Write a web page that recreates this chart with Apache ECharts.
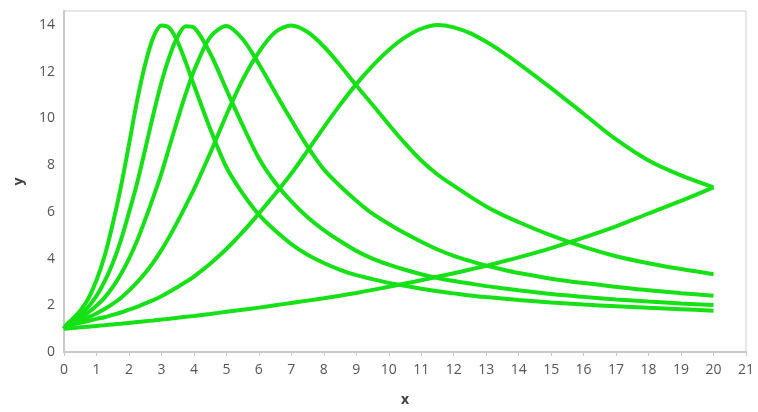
<!DOCTYPE html>
<html>
<head>
<meta charset="utf-8">
<script src="https://cdn.jsdelivr.net/npm/echarts@6/dist/echarts.min.js"></script>
<style>html,body{margin:0;padding:0;background:#fff}#c{width:758px;height:412px}</style>
</head>
<body>
<div id="c"></div>
<script>
// shared x positions
var xs = [0,0.1,0.25,0.5,0.75,1,1.25,1.5,1.75,2,2.25,2.5,2.75,3,3.25,3.5,3.75,4,4.5,5,5.5,6,6.5,7,7.5,8,8.5,9,9.5,10,10.5,11,11.5,12,12.5,13,13.5,14,15,16,17,18,19,20];
// curves (peaks near x = 3.1, 3.8, 4.9, 6.9, 11.5, plus the rising curve)
var curveA = [1,1.21,1.40,1.77,2.29,3.07,4.11,5.48,7.06,8.88,10.75,12.32,13.47,13.98,13.87,13.28,12.4,11.43,9.56,7.91,6.79,5.88,5.2,4.62,4.16,3.81,3.52,3.29,3.12,2.96,2.83,2.71,2.60,2.51,2.42,2.35,2.29,2.23,2.12,2.03,1.96,1.89,1.83,1.77];
var curveB = [1,1.185,1.33,1.59,1.94,2.40,3.02,3.80,4.78,5.97,7.23,8.68,10.17,11.54,12.67,13.51,13.95,13.89,12.79,11.24,9.71,8.30,7.26,6.45,5.77,5.22,4.75,4.33,4.0,3.74,3.52,3.33,3.17,3.04,2.93,2.82,2.73,2.64,2.48,2.36,2.25,2.16,2.08,2.01];
var curveC = [1,1.16,1.27,1.47,1.70,1.98,2.33,2.78,3.33,3.99,4.76,5.67,6.63,7.65,8.81,9.96,11.06,12.03,13.48,13.96,13.4,12.33,11.12,9.93,8.79,7.82,7.11,6.48,5.92,5.48,5.08,4.72,4.39,4.12,3.9,3.70,3.53,3.38,3.14,2.95,2.79,2.64,2.52,2.41];
var curveD = [1,1.13,1.22,1.36,1.49,1.65,1.84,2.06,2.31,2.63,2.98,3.38,3.84,4.36,4.95,5.59,6.27,6.96,8.51,10.15,11.65,12.84,13.69,13.98,13.7,13.08,12.28,11.41,10.59,9.74,8.93,8.2,7.6,7.12,6.66,6.23,5.87,5.56,4.99,4.5,4.1,3.8,3.55,3.33];
var curveE = [1,1.10,1.17,1.25,1.33,1.42,1.49,1.59,1.69,1.81,1.93,2.08,2.22,2.39,2.58,2.78,3.0,3.23,3.78,4.41,5.13,5.93,6.76,7.64,8.62,9.62,10.58,11.47,12.25,12.93,13.47,13.84,14.0,13.9,13.65,13.28,12.84,12.35,11.3,10.2,9.1,8.2,7.56,7.05];
var curveF = [1,1.01,1.03,1.055,1.085,1.115,1.145,1.18,1.21,1.245,1.28,1.315,1.35,1.39,1.425,1.465,1.505,1.545,1.63,1.72,1.81,1.9,2.0,2.1,2.2,2.3,2.41,2.53,2.66,2.79,2.93,3.07,3.22,3.37,3.53,3.69,3.87,4.05,4.45,4.9,5.38,5.93,6.47,7.05];
var curves = [curveA, curveB, curveC, curveD, curveE, curveF];
var xTicks = [0,1,2,3,4,5,6,7,8,9,10,11,12,13,14,15,16,17,18,19,20,21];
var yTicks = [0,2,4,6,8,10,12,14];

var lineColor = '#16e016';
var chart = echarts.init(document.getElementById('c'), null, {renderer:'canvas'});
var font = '"Open Sans", "Noto Sans", sans-serif';
chart.setOption({
  animation: false,
  grid: {left: 64, right: 12, top: 11, bottom: 53, show: true, borderColor: '#cfcfcf', borderWidth: 1, backgroundColor: '#fff'},
  xAxis: {
    type: 'value', min: 0, max: 21, interval: 1,
    name: 'x', nameLocation: 'middle', nameGap: 41,
    nameTextStyle: {color: '#444', fontSize: 14, fontWeight: 'bold', fontFamily: font},
    axisLine: {show: true, lineStyle: {color: '#c8c8c8', width: 2}},
    axisTick: {show: true, length: 4, lineStyle: {color: '#c8c8c8'}},
    axisLabel: {color: '#555', fontSize: 14, fontFamily: font, margin: 11,
      formatter: function(v){ return xTicks.indexOf(v) >= 0 ? String(v) : ''; }},
    splitLine: {show: false}
  },
  yAxis: {
    type: 'value', min: 0, max: 14.6, interval: 2,
    name: 'y', nameLocation: 'middle', nameGap: 38, nameRotate: 90,
    nameTextStyle: {color: '#444', fontSize: 14, fontWeight: 'bold', fontFamily: font},
    axisLine: {show: true, lineStyle: {color: '#c8c8c8', width: 2}},
    axisTick: {show: false},
    axisLabel: {color: '#555', fontSize: 14, fontFamily: font, margin: 9, showMaxLabel: false,
      formatter: function(v){ return yTicks.indexOf(v) >= 0 ? String(v) : ''; }},
    splitLine: {show: false}
  },
  series: curves.map(function(c){
    return {
      type: 'line', smooth: 0.3, showSymbol: false, symbol: 'none',
      lineStyle: {color: lineColor, width: 4},
      data: xs.map(function(x, i){ return [x, c[i]]; })
    };
  })
});
</script>
</body>
</html>
